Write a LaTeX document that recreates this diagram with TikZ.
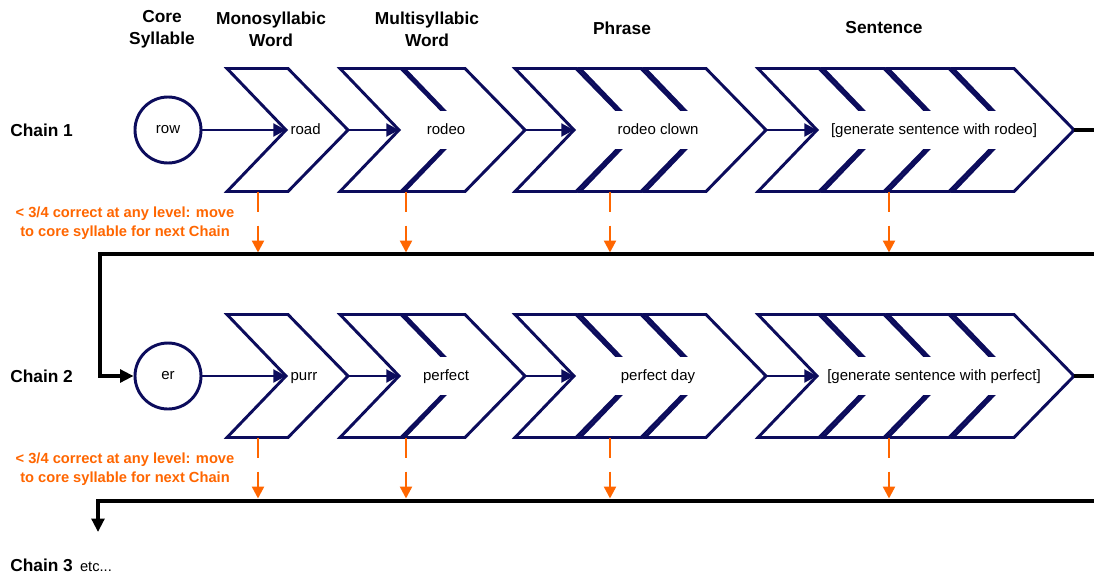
\documentclass[tikz,border=0pt]{standalone}
\usepackage{fontspec}
\setmainfont{Liberation Sans}
\usepackage{tikz}
\usetikzlibrary{arrows.meta, positioning, calc}
\definecolor{chevnavy}{RGB}{12, 12, 92}
\definecolor{failorange}{RGB}{255, 102, 0}

\begin{document}
\begin{tikzpicture}[
    x=0.75pt, y=-0.75pt,
    chevline/.style={draw=chevnavy, line width=2.2pt, fill=white, line join=miter},
    chev/.pic={
      \path[chevline] (0,-61.5) -- (61,-61.5) -- (121,0) -- (61,61.5)
                      -- (0,61.5) -- (59,0) -- cycle;
      \coordinate (-in)  at (59,0);
      \coordinate (-out) at (121,0);
      \coordinate (-bl)  at (0,61.5);
    },
    core/.style={circle, draw=chevnavy, line width=2.2pt, fill=white,
                 minimum size=49.5pt, inner sep=0pt, font=\fontsize{11.25}{13}\selectfont},
    word/.style={fill=white, inner xsep=5pt, inner ysep=0pt, minimum height=28pt,
                 text height=8.5pt, text depth=1.5pt, font=\fontsize{11.25}{13}\selectfont},
    phrasebox/.style={word, minimum width=76pt},
    head/.style={align=center, font=\fontsize{13}{16.5}\selectfont\bfseries},
    chain/.style={anchor=west, inner sep=0pt, font=\fontsize{13}{16}\selectfont\bfseries},
    fail/.style={align=center, text=failorange, font=\fontsize{11}{14.25}\selectfont\bfseries},
    flow/.style={-{Triangle[length=9.5pt, width=9.5pt]}, draw=chevnavy, line width=2.2pt},
    retline/.style={draw=black, line width=2.4pt},
    ret/.style={retline, -{Triangle[length=10pt, width=9.5pt]}},
    failarr/.style={-{Triangle[length=9pt, width=9pt]}, draw=failorange, line width=1.8pt,
                    dash pattern=on 15pt off 10.5pt},
]
\path[use as bounding box, fill=white] (0,0) rectangle (1094,575);

% --- Column headers ---
\node[head] (hcore)   at (162,29)  {Core\\Syllable};
\node[head] (hmono)   at (271,29)  {Monosyllabic\\Word};
\node[head] (hmulti)  at (427,29)  {Multisyllabic\\Word};
\node[head] (hphrase) at (622,28)  {Phrase};
\node[head] (hsent)   at (884,28)  {Sentence};

% --- Chain labels ---
\node[chain] (chain1) at (10,130) {Chain 1};
\node[chain] (chain2) at (10,376) {Chain 2};
\node[chain] (chain3) at (10,565) {Chain 3};
\node[anchor=base west, inner sep=0pt, font=\fontsize{11}{13}\selectfont]
     (etc) at ([xshift=5pt]chain3.base east) {etc...};

% --- Chevrons ---
\foreach \r/\y in {1/130, 2/376} {
  \foreach \c/\x in {mono/227, multiA/340, multiB/404, phraseA/515, phraseB/580,
                     phraseC/645, sentA/758, sentB/823, sentC/888, sentD/953}
    \pic (r\r-\c) at (\x,\y) {chev};
}

% --- Core syllables ---
\node[core] (r1-core) at (168,130) {row};
\node[core] (r2-core) at (168,376) {er};

% --- Words ---
\node[word, anchor=west, inner xsep=1pt] (r1-w1) at ($(r1-mono-in)+(3,0)$) {road};
\node[word] (r1-w2) at ($(r1-multiB-in)+(-17,0)$) {rodeo};
\node[phrasebox] (r1-w3) at ($(r1-phraseB-in)+(19,0)$) {rodeo clown};
\node[word] (r1-w4) at ($(r1-sentB-in)+(52,0)$) {[generate sentence with rodeo]};

\node[word, anchor=west, inner xsep=1pt] (r2-w1) at ($(r2-mono-in)+(3,0)$) {purr};
\node[word] (r2-w2) at ($(r2-multiB-in)+(-17,0)$) {perfect};
\node[phrasebox] (r2-w3) at ($(r2-phraseB-in)+(19,0)$) {perfect day};
\node[word, inner xsep=4pt] (r2-w4) at ($(r2-sentB-in)+(52,0)$) {[generate sentence with perfect]};

% ---- Arrows ----
\foreach \r in {1,2} {
  \draw[flow] (r\r-core) -- (r\r-mono-in);
  \draw[flow] (r\r-mono-out) -- (r\r-multiA-in);
  \draw[flow] (r\r-multiB-out) -- (r\r-phraseA-in);
  \draw[flow] (r\r-phraseC-out) -- (r\r-sentA-in);
}

% --- Failure rule ---
\node[fail] (fail1) at (125,223.5) {< 3/4 correct at any level: move\\to core syllable for next Chain};
\node[fail] (fail2) at (125,469.5) {< 3/4 correct at any level: move\\to core syllable for next Chain};
\foreach \r in {1,2}
  \foreach \c/\dx in {mono/31, multiB/2, phraseB/30, sentC/1}
    \draw[failarr] ($(r\r-\c-bl)+(\dx,0)$) -- ++(0,61);

% --- Return lines ---
\coordinate (r1edge) at (1094,130);
\coordinate (r1back) at (1094,254);
\coordinate (r1turn) at (100,254);
\coordinate (r2edge) at (1094,376);
\coordinate (r2back) at (1094,501);
\coordinate (r2turn) at (98,501);
\coordinate (r3in)   at (98,532);
\draw[retline] (r1-sentD-out) -- (r1edge);
\draw[retline] (r2-sentD-out) -- (r2edge);
\draw[ret] (r1back) -- (r1turn) |- (r2-core.west);
\draw[ret] (r2back) -- (r2turn) -- (r3in);

\end{tikzpicture}
\end{document}
